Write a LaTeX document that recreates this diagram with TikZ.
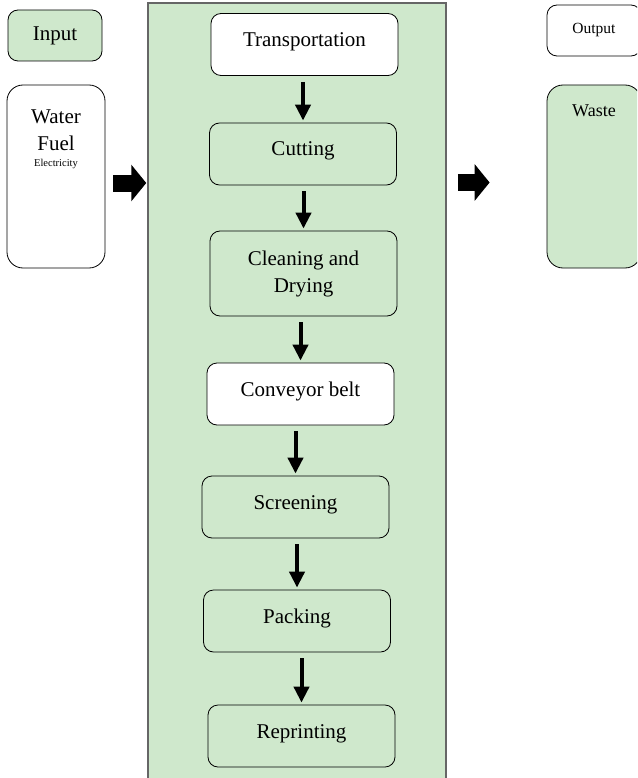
\documentclass[tikz,border=0pt]{standalone}
\usepackage{fontspec}
\setmainfont{Liberation Serif}
\usetikzlibrary{arrows.meta}
\definecolor{stagegreen}{RGB}{207,232,204}
\begin{document}
\begin{tikzpicture}[x=1pt, y=-1pt,
  every node/.style={font=\fontsize{21}{27}\selectfont},
  stepbox/.style={draw, line width=0.8pt, rounded corners=10pt, minimum width=187pt, minimum height=62pt, inner sep=0pt},
  oneline/.style={text height=11pt, text depth=7pt},
  sidebox/.style={draw, line width=0.8pt, rounded corners=16pt, minimum width=98pt, minimum height=183pt, inner sep=0pt},
  flow/.style={line width=4pt, -{Triangle[width=15pt,length=16pt]}, shorten <=6pt, shorten >=2pt},
  bigflow/.style={line width=17pt, -{Triangle[width=36pt,length=15pt]}}]
\clip (0,0) rectangle (637,778);
\node[draw=black!60, line width=1.5pt, fill=stagegreen, minimum width=298pt, minimum height=787pt, inner sep=0pt] (panel) at (297,396.5) {};

\node[stepbox, oneline, fill=white] (trans) at (304.5,44.5) {Transportation};
\node[stepbox, oneline, fill=stagegreen] (cut) at (303,154) {Cutting};
\node[stepbox, fill=stagegreen, minimum height=85pt, align=center] (clean) at (303.5,273.5) {Cleaning and\\Drying};
\node[stepbox, oneline, fill=white] (belt) at (300.5,394) {Conveyor belt};
\node[stepbox, oneline, fill=stagegreen] (screen) at (295.5,507) {Screening};
\node[stepbox, oneline, fill=stagegreen] (pack) at (297,621) {Packing};
\node[stepbox, oneline, fill=stagegreen] (reprint) at (301.5,736) {Reprinting};

\node[stepbox, fill=stagegreen, minimum width=94pt, minimum height=51pt] (input) at (55,35.5) {Input};
\node[sidebox, fill=white, label={[anchor=north, yshift=-22pt, align=center]north:{Water\\Fuel\\[-11pt]{\fontsize{10.5}{12}\selectfont Electricity}}}] (supply) at (56,176.5) {};
\node[stepbox, fill=white, minimum width=94pt, minimum height=51pt, font=\fontsize{15.5}{18}\selectfont] (output) at (594,30.5) {Output};
\node[sidebox, fill=stagegreen, minimum width=94pt, label={[anchor=north, yshift=-17pt, font=\fontsize{18}{22}\selectfont]north:Waste}] (waste) at (594,176.5) {};

\draw[flow] (cut.north |- trans.south) -- (cut.north);
\draw[flow] (clean.north |- cut.south) -- (clean.north);
\draw[flow] (belt.north |- clean.south) -- (belt.north);
\draw[flow] (screen.north |- belt.south) -- (screen.north);
\draw[flow] (pack.north |- screen.south) -- (pack.north);
\draw[flow] (reprint.north |- pack.south) -- (reprint.north);

\draw[bigflow, shorten <=8pt, shorten >=1pt] ([yshift=-6.5pt]supply.east) -- ([yshift=-6.5pt]supply.east -| panel.west);
\draw[bigflow, shorten <=11pt, shorten >=57pt] ([yshift=-6pt]supply.east -| panel.east) -- ([yshift=-6pt]supply.east -| waste.west);

\end{tikzpicture}
\end{document}
